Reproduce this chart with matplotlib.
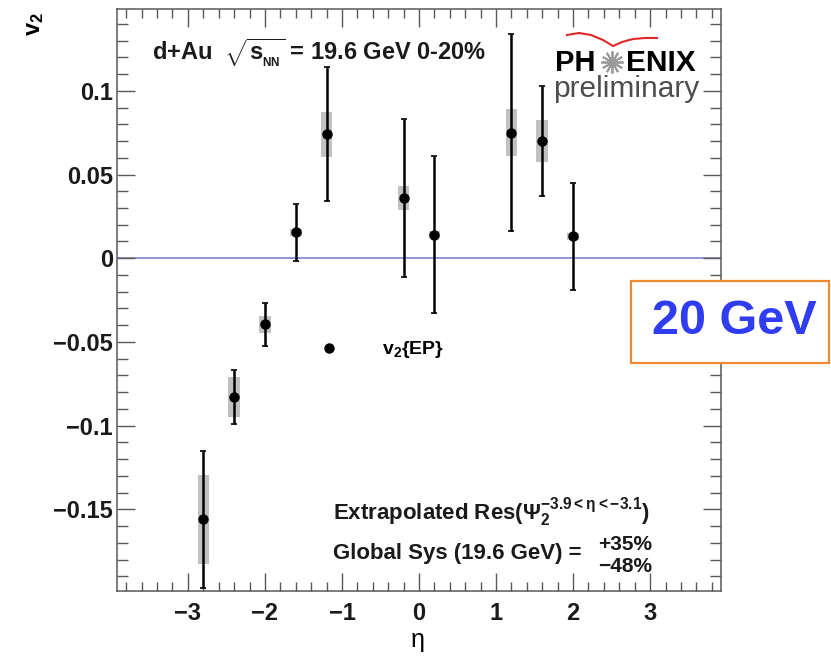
import matplotlib
matplotlib.use("Agg")
import matplotlib.pyplot as plt
from matplotlib.lines import Line2D
from matplotlib.patches import Rectangle
from matplotlib.ticker import MultipleLocator, FuncFormatter

plt.rcParams['font.family'] = ['Liberation Sans', 'DejaVu Sans']
plt.rcParams['font.weight'] = 'bold'
plt.rcParams['mathtext.fontset'] = 'custom'
plt.rcParams['mathtext.rm'] = 'Liberation Sans'
plt.rcParams['mathtext.it'] = 'Liberation Sans:italic'
plt.rcParams['mathtext.bf'] = 'Liberation Sans:bold'
plt.rcParams['mathtext.default'] = 'regular'

# v2{EP} vs eta, d+Au at 19.6 GeV, 0-20% centrality
eta = [-2.8, -2.4, -2.0, -1.6, -1.2, -0.2, 0.2, 1.2, 1.6, 2.0]
v2 = [-0.156, -0.083, -0.0395, 0.0155, 0.074, 0.036, 0.014, 0.075, 0.070, 0.013]
v2_stat = [0.041, 0.016, 0.013, 0.017, 0.040, 0.047, 0.047, 0.059, 0.033, 0.032]
v2_sys = [0.0265, 0.012, 0.005, 0.002, 0.0135, 0.007, 0.002, 0.014, 0.0125, 0.002]

W, H = 831, 656
fig = plt.figure(figsize=(W / 100, H / 100), dpi=100)
ax = fig.add_axes([117 / W, 1 - 591 / H, (721 - 117) / W, (591 - 9) / H])


def fx(px):
    return px / W


def fy(py):
    return 1 - py / H


# systematic boxes
ax.bar(eta, [2 * s for s in v2_sys], bottom=[v - s for v, s in zip(v2, v2_sys)],
       width=0.15, color='0.6', alpha=0.6, lw=0, zorder=2)
ax.axhline(0, color='#7f80d0', lw=1.2, zorder=1)
ax.errorbar(eta, v2, yerr=v2_stat, fmt='o', color='black', ms=6.5,
            elinewidth=1.8, capsize=2.2, capthick=1.2, zorder=3)

ax.set_xlim(-3.92, 3.92)
ax.set_ylim(-0.1988, 0.1489)

ax.xaxis.set_major_locator(MultipleLocator(1))
ax.xaxis.set_minor_locator(MultipleLocator(0.2))
ax.yaxis.set_major_locator(MultipleLocator(0.05))
ax.yaxis.set_minor_locator(MultipleLocator(0.01))


def fmt(v, pos):
    s = '%g' % round(v, 4)
    return s.replace('-', '\u2212')


ax.xaxis.set_major_formatter(FuncFormatter(fmt))
ax.yaxis.set_major_formatter(FuncFormatter(fmt))

ax.tick_params(which='both', direction='in', top=True, right=True, color='0.35', width=1.0)
ax.tick_params(which='major', length=13, labelsize=17)
ax.tick_params(axis='x', which='major', pad=8)
ax.tick_params(axis='y', which='major', pad=3)
ax.tick_params(which='minor', length=6.5)
ax.tick_params(axis='y', which='minor', length=8)
for lbl in ax.get_xticklabels() + ax.get_yticklabels():
    lbl.set_color('0.1')
for sp in ax.spines.values():
    sp.set_color('0.35')
    sp.set_linewidth(1.1)

# axis titles
fig.text(fx(418), fy(640), '\u03b7', ha='center', va='center', fontsize=18, fontweight='normal')
fig.text(fx(35), fy(24), 'v$_2$', rotation=90, ha='center', va='center', fontsize=17)

# header
fig.text(fx(152), fy(53), r'd+Au  $\sqrt{s_{_{NN}}}$ = 19.6 GeV 0-20%',
         ha='left', va='center', fontsize=17, color='0.1')

# legend
leg = ax.legend(handles=[Line2D([], [], marker='o', ls='none', color='black', ms=6.5)],
                labels=['v$_2${EP}'], frameon=False, fontsize=14,
                handlelength=2, handletextpad=1.7, borderpad=0, borderaxespad=0,
                loc='center left', bbox_to_anchor=(fx(310), fy(350)),
                bbox_transform=fig.transFigure)

# PHENIX preliminary logo
fig.text(fx(555), fy(63), 'PH', ha='left', va='center', fontsize=21, fontweight='bold')
fig.text(fx(626), fy(63), 'ENIX', ha='left', va='center', fontsize=21.5, fontweight='bold')
fig.add_artist(Line2D([fx(612)], [fy(62)], marker=(12, 2, 0), ms=16, mew=1.3,
                      color='0.6', transform=fig.transFigure))
fig.add_artist(Line2D([fx(612)], [fy(62)], marker='o', ms=6, color='0.6',
                      transform=fig.transFigure))
wing_x = [567, 579, 591, 603, 613, 622, 633, 645, 657]
wing_y = [35, 33, 35, 40, 46, 42, 39, 38, 38]
fig.add_artist(Line2D([fx(p) for p in wing_x], [fy(p) for p in wing_y],
                      color='#e02828', lw=1.5, transform=fig.transFigure))
fig.text(fx(553), fy(89), 'preliminary', ha='left', va='center', fontsize=21.5,
         fontweight='normal', color='0.3')

# notes
fig.text(fx(333), fy(513), r'Extrapolated Res($\Psi_2^{-3.9<\eta<-3.1}$)',
         ha='left', va='center', fontsize=16, color='0.1')
fig.text(fx(333), fy(553), 'Global Sys (19.6 GeV) =', ha='left', va='center',
         fontsize=16, color='0.1')
fig.text(fx(598), fy(544), '+35%', ha='left', va='center', fontsize=15, color='0.1')
fig.text(fx(598), fy(567), '\u221248%', ha='left', va='center', fontsize=15, color='0.1')

# energy tag
fig.add_artist(Rectangle((fx(631), fy(363)), fx(829) - fx(631), fy(281) - fy(363),
                         facecolor='white', edgecolor='#f08a30', lw=1.6,
                         transform=fig.transFigure, zorder=5))
fig.text(fx(734), fy(322), '20 GeV', ha='center', va='center', fontsize=35,
         fontweight='bold', color='#2f3cf0', zorder=6)

fig.savefig('out.png', dpi=100)
